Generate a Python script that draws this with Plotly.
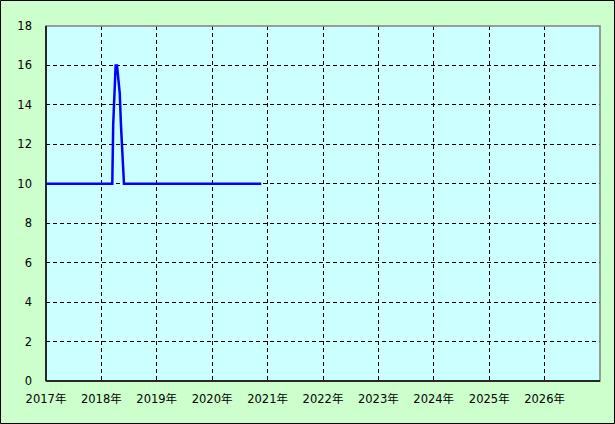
import plotly.graph_objects as go

# price history (date, value)
dates = ["2017-01-01", "2018-03-14", "2018-03-20", "2018-03-28", "2018-04-05",
         "2018-04-14", "2018-04-19", "2018-04-26", "2018-05-02", "2018-05-10",
         "2018-05-20", "2018-05-30", "2020-11-20"]
values = [10, 10, 13, 14.5, 16, 16, 15.6, 15, 14.6, 13, 11, 10, 10]

years = list(range(2017, 2027))
year_ticks = [f"{y}-01-01" for y in years]
year_labels = [f"{y}年" for y in years]
y_ticks = list(range(0, 19, 2))

W, H = 615, 424
ml, mr, mt, mb = 46, 15, 26, 43
pw, ph = W - ml - mr, H - mt - mb

fig = go.Figure()
fig.add_trace(go.Scatter(x=dates, y=values, mode="lines",
                         line=dict(color="#0000ff", width=2.5),
                         hoverinfo="x+y"))

font = dict(family="DejaVu Sans, Noto Sans CJK JP", size=11.5, color="#000000")

fig.update_layout(
    width=W, height=H,
    margin=dict(l=ml, r=mr, t=mt, b=mb),
    paper_bgcolor="#ccffcc",
    plot_bgcolor="#ccffff",
    showlegend=False,
    font=font,
    xaxis=dict(range=["2017-01-01", "2027-01-01"], tickvals=year_ticks,
               ticktext=year_labels, showgrid=True, gridcolor="#000000",
               griddash="4px,3px", gridwidth=1, zeroline=False, ticks="",
               showline=False, tickfont=font, ticklabelstandoff=9),
    yaxis=dict(range=[0, 18], tickvals=y_ticks, showgrid=True,
               gridcolor="#000000", griddash="4px,3px", gridwidth=1,
               zeroline=False, ticks="", showline=False, tickfont=font,
               ticklabelstandoff=13),
)

# plot frame: gray top/right, black left/bottom
fig.add_shape(type="rect", xref="paper", yref="paper", x0=0, y0=0, x1=1, y1=1,
              line=dict(color="#808080", width=1.5), layer="above")
fig.add_shape(type="line", xref="paper", yref="paper", x0=0, y0=0, x1=0, y1=1,
              line=dict(color="#000000", width=1.5), layer="above")
fig.add_shape(type="line", xref="paper", yref="paper", x0=0, y0=0, x1=1, y1=0,
              line=dict(color="#000000", width=1.5), layer="above")
# outer border of the chart
fig.add_shape(type="rect", xref="paper", yref="paper",
              x0=-(ml - 0.5) / pw, y0=-(mb - 0.5) / ph,
              x1=1 + (mr - 0.5) / pw, y1=1 + (mt - 0.5) / ph,
              line=dict(color="#000000", width=1), layer="above")

fig.write_html("out.html", config={"displayModeBar": False},
               post_script="document.body.style.margin='0';")
